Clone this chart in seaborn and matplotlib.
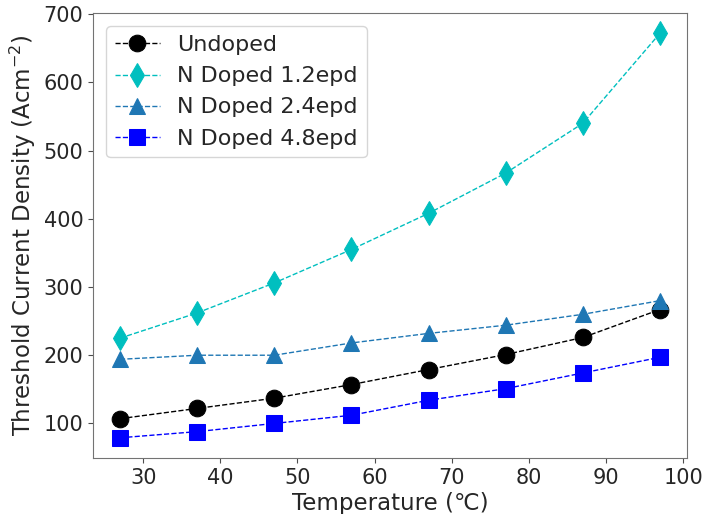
import matplotlib
matplotlib.use("Agg")
import matplotlib.pyplot as plt
import seaborn as sns
import pandas as pd

temperature = [27, 37, 47, 57, 67, 77, 87, 97]
undoped = [107, 122, 137, 157, 179, 201, 226, 267]
doped_1_2 = [225, 262, 306, 355, 408, 467, 540, 672]
doped_2_4 = [194, 200, 200, 218, 232, 244, 260, 280]
doped_4_8 = [79, 88, 100, 112, 134, 151, 174, 197]

series_names = ["Undoped", "N Doped 1.2epd", "N Doped 2.4epd", "N Doped 4.8epd"]
series_values = [undoped, doped_1_2, doped_2_4, doped_4_8]
colors = ["black", "c", "#1f77b4", "blue"]
markers = ["o", "d", "^", "s"]

sns.set_style("ticks")
plt.rcParams["font.family"] = ["DejaVu Sans"]

fig = plt.figure(figsize=(7.02, 5.14), dpi=100)
ax = fig.add_axes([93 / 702, 1 - 458 / 514, (687 - 93) / 702, (458 - 13) / 514])

for name, vals, col, mk in zip(series_names, series_values, colors, markers):
    df = pd.DataFrame({"Temperature": temperature, "J": vals})
    sns.lineplot(data=df, x="Temperature", y="J", ax=ax, color=col, marker=mk,
                 markersize=12, linestyle="--", linewidth=1, label=name,
                 markeredgecolor=col)

ax.set_xticks([30, 40, 50, 60, 70, 80, 90, 100])
ax.set_yticks([100, 200, 300, 400, 500, 600, 700])
ax.tick_params(labelsize=15, length=3.5, color="0.3")
for s in ax.spines.values():
    s.set_color("0.45")
ax.set_xlabel("Temperature (\u2103)", fontsize=16.5, labelpad=3)
ax.set_ylabel("Threshold Current Density (Acm$^{-2}$)", fontsize=16.5, labelpad=4)
ax.legend(loc="upper left", fontsize=16, frameon=True, handlelength=2,
          borderaxespad=0.6)

fig.savefig("out.png", dpi=100)
